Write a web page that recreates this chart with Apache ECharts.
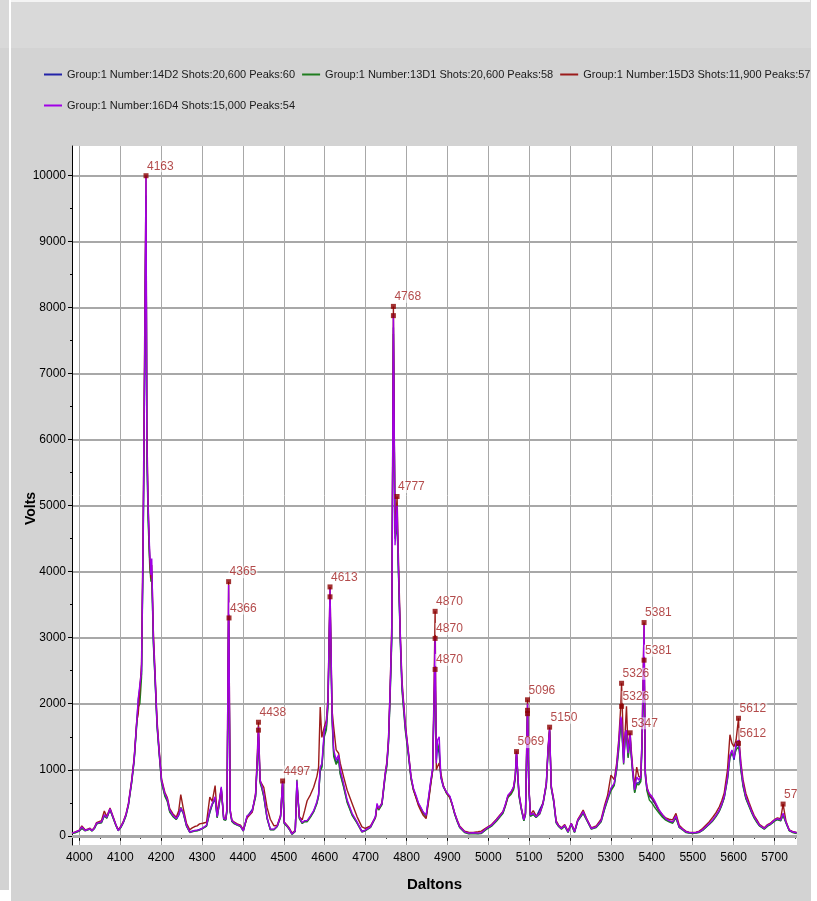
<!DOCTYPE html>
<html><head><meta charset="utf-8">
<script src="https://cdn.jsdelivr.net/npm/echarts@6/dist/echarts.min.js"></script>
<style>html,body{margin:0;padding:0;background:#d3d3d3}#c{width:817px;height:901px}</style>
</head><body><div id="c"></div><script>
const seriesNames = [
  'Group:1 Number:14D2 Shots:20,600 Peaks:60',
  'Group:1 Number:13D1 Shots:20,600 Peaks:58',
  'Group:1 Number:15D3 Shots:11,900 Peaks:57',
  'Group:1 Number:16D4 Shots:15,000 Peaks:54'
];
const xTicks = [4000,4100,4200,4300,4400,4500,4600,4700,4800,4900,5000,5100,5200,5300,5400,5500,5600,5700];
const xMinorTicks = [4050,4150,4250,4350,4450,4550,4650,4750,4850,4950,5050,5150,5250,5350,5450,5550,5650,5750];
const yTicks = [0,1000,2000,3000,4000,5000,6000,7000,8000,9000,10000];
const yMinorTicks = [500,1500,2500,3500,4500,5500,6500,7500,8500,9500];

const daltons = [3982,3990,4000,4006,4014,4020,4026,4031,4037,4042,4048,4054,4061,4067,4075,4082,4089,4095,4101,4107,4114,4120,4128,4134,4140,4144,4148,4152,4156,4160,4163,4165,4168,4172,4175,4177,4181,4185,4190,4195,4201,4209,4215,4221,4229,4237,4243,4248,4254,4262,4270,4276,4282,4288,4294,4302,4311,4319,4325,4332,4337,4342,4347,4353,4358,4361,4365,4369,4373,4378,4386,4394,4401,4410,4416,4423,4431,4435,4438,4442,4446,4451,4459,4467,4476,4484,4492,4497,4501,4508,4514,4520,4528,4532,4538,4545,4551,4557,4565,4573,4581,4585,4589,4593,4599,4604,4608,4613,4618,4622,4628,4634,4638,4646,4655,4667,4679,4691,4699,4712,4724,4728,4732,4740,4748,4752,4756,4760,4764,4768,4772,4777,4780,4785,4789,4797,4805,4811,4817,4824,4829,4835,4841,4848,4853,4859,4864,4867,4870,4873,4876,4880,4884,4890,4898,4906,4912,4918,4924,4930,4942,4952,4963,4975,4983,4995,5008,5020,5028,5036,5042,5048,5056,5062,5066,5069,5075,5081,5087,5091,5096,5099,5103,5110,5117,5126,5134,5142,5146,5150,5154,5160,5166,5172,5179,5187,5195,5203,5211,5219,5226,5232,5240,5252,5264,5276,5284,5292,5300,5308,5314,5319,5324,5326,5331,5335,5338,5342,5347,5349,5353,5358,5363,5368,5373,5376,5381,5384,5388,5394,5400,5406,5418,5426,5434,5442,5451,5459,5467,5475,5483,5491,5500,5508,5516,5524,5532,5540,5549,5557,5565,5571,5577,5585,5591,5596,5601,5606,5612,5614,5618,5623,5630,5638,5644,5650,5657,5663,5675,5683,5690,5695,5701,5707,5715,5721,5728,5736,5744,5754];

const volts16D4 = [40,55,80,135,80,95,105,75,120,190,200,210,320,280,410,290,170,80,130,200,320,480,830,1160,1700,2080,2100,2500,4500,7500,10000,6000,5000,4300,3950,4200,3000,2450,1700,1290,840,640,560,390,310,260,320,420,360,160,55,65,80,85,90,120,160,390,490,590,290,500,740,260,250,400,3800,380,230,200,170,150,75,300,320,380,630,1140,1650,850,760,630,280,100,100,150,300,830,200,150,100,25,75,835,280,200,230,230,300,380,520,630,1040,1090,1600,1700,2050,3740,1850,1300,1150,1225,1000,795,540,340,210,60,85,135,290,490,415,490,945,1100,1450,2210,3100,7900,4400,5000,4160,2990,2300,1670,1245,900,720,600,500,430,360,310,540,820,1030,1960,3000,1100,1450,1500,900,750,660,600,480,340,230,135,60,40,45,40,45,110,160,240,300,365,480,615,670,745,900,1275,640,415,240,340,2000,795,315,340,290,340,490,795,1300,1620,745,540,210,150,110,160,60,185,60,240,300,365,260,110,135,230,420,570,720,795,1050,1400,1805,1750,1100,1555,1600,1250,1555,1300,1000,695,890,845,890,1450,3200,945,720,640,600,540,390,320,260,230,210,300,135,100,60,50,45,50,60,90,135,180,240,310,390,480,590,890,1225,1300,1175,1400,1450,1350,1050,795,590,465,370,290,220,160,110,160,180,210,240,260,240,340,210,85,60,45];

const volts14D2 = [45,50,75,120,85,90,110,80,115,180,195,200,300,270,390,280,165,85,125,195,310,470,820,1150,1680,2050,2080,2450,4400,7300,9700,5900,4900,4200,3900,4000,2950,2400,1680,1270,820,620,540,370,300,250,310,400,350,150,60,70,75,80,95,115,150,350,470,560,280,480,720,250,240,380,3300,360,220,190,165,145,80,290,340,400,600,1100,1550,820,740,600,270,95,95,145,290,800,190,145,95,30,70,800,270,190,220,220,290,370,500,610,1000,1050,1550,1650,2000,3600,1800,1250,1100,1180,950,760,520,320,200,70,80,130,280,470,400,480,920,1080,1420,2150,3000,7700,4600,4800,4100,2950,2250,1640,1220,880,700,580,490,420,350,300,520,800,1000,1900,2520,1150,1350,1250,880,740,650,590,470,330,220,130,55,35,40,35,40,100,150,230,290,350,460,590,650,720,880,1250,620,400,230,330,1900,780,300,330,280,400,500,780,1280,1600,730,520,200,145,105,150,55,180,55,230,290,350,250,105,130,220,400,560,700,780,1020,1350,1750,1700,1150,1500,1550,1200,1500,1280,980,660,800,800,850,1400,2660,900,700,600,560,500,370,300,250,220,200,280,130,95,55,45,40,45,55,85,130,175,230,300,380,470,580,870,1200,1280,1150,1350,1400,1300,1000,770,570,450,360,280,210,155,105,150,175,200,230,250,230,320,200,80,55,40];

const volts13D1 = [35,45,70,110,75,85,100,70,110,175,190,195,310,265,400,275,160,75,120,190,300,460,800,1130,1650,1950,2000,2400,4300,7200,9600,5800,4800,4100,3850,3950,2900,2380,1650,1250,800,600,520,360,290,245,330,430,340,145,50,60,70,75,85,110,145,360,480,570,270,470,700,245,235,370,3250,350,215,185,160,140,70,280,330,370,590,1080,1500,800,720,590,260,90,90,140,280,780,185,140,90,20,65,850,260,185,215,210,280,360,490,600,980,1030,1500,1600,1950,3550,1750,1200,1080,1150,930,740,500,310,190,55,75,125,270,460,390,470,900,1050,1400,2100,2950,7600,4500,4700,4050,2900,2200,1600,1200,860,690,570,480,410,340,290,500,780,980,1850,2400,1300,1400,1300,900,760,640,580,460,320,215,125,50,30,35,30,35,95,145,220,280,340,450,580,630,700,860,1220,600,390,225,320,1850,760,295,320,275,330,480,760,1250,1580,720,510,195,140,100,145,50,170,50,225,285,340,245,100,125,210,390,540,680,760,1000,1300,1700,1650,1080,1480,1520,1180,1480,1250,960,650,780,770,820,1350,2660,1000,680,540,500,440,340,280,235,210,190,270,125,90,50,40,35,40,50,80,125,170,225,290,370,460,570,850,1180,1250,1200,1300,1350,1280,980,750,560,440,350,270,200,150,100,145,170,195,225,245,225,310,195,75,50,35];

const volts15D3 = [40,60,85,150,90,100,115,80,130,200,215,230,375,290,420,300,175,90,140,210,330,490,850,1180,1720,1850,1820,2600,4700,7800,10000,6200,5100,4200,3900,4100,3100,2500,1750,1320,860,660,580,410,330,280,380,625,420,190,90,120,140,150,180,190,205,585,520,760,330,520,720,270,255,420,3850,390,240,210,180,160,90,270,310,360,650,1200,1720,830,825,735,430,250,150,160,310,830,210,160,110,40,80,780,290,240,380,530,620,735,900,1040,1950,1490,1650,1750,2100,3770,1900,1645,1300,1250,1100,900,690,490,290,135,110,150,280,450,410,500,950,1120,1480,2250,3200,8020,4580,5140,4300,3050,2350,1700,1260,900,700,560,460,380,310,260,470,760,1000,2100,3400,1000,1050,1100,950,760,650,580,470,340,240,150,70,55,50,60,70,120,170,250,310,370,470,600,660,740,920,1280,650,420,250,350,2060,800,320,380,300,350,500,800,1320,1645,760,550,230,160,120,170,70,190,70,250,320,390,270,120,150,250,450,620,920,850,1100,1450,1960,2310,1250,1600,1960,1300,1560,1350,1050,750,1040,900,880,1500,3230,950,740,620,580,520,380,320,270,250,240,340,160,110,70,55,50,55,70,110,160,210,280,350,440,530,650,1000,1530,1400,1350,1450,1780,1400,1100,850,640,500,400,310,240,175,120,170,190,220,250,270,260,480,220,90,65,50];

const peakDaltons = [4163,4365,4366,4438,4438,4497,4613,4613,4768,4768,4777,4870,4870,4870,5069,5096,5096,5096,5150,5326,5326,5347,5381,5381,5612,5612,5721];
const peakVolts = [10000,3850,3300,1720,1600,830,3770,3620,8020,7880,5140,3400,2990,2520,1275,2060,1900,1850,1645,2310,1960,1560,3230,2660,1780,1400,480];
const peakLabels = ['4163','4365','4366','4438','','4497','4613','','4768','','4777','4870','4870','4870','5069','5096','','','5150','5326','5326','5347','5381','5381','5612','5612','5721'];

const FONT = '"Liberation Sans", Arial, sans-serif';
const colors = ['#2323a8', '#1f7d1f', '#9b1b1b', '#a000e6'];
const valueSets = [volts14D2, volts13D1, volts15D3, volts16D4];
const plain = v => String(v);

const chart = echarts.init(document.getElementById('c'), null, {renderer: 'canvas'});
const lineSeries = seriesNames.map((name, k) => ({
  name: name,
  type: 'line',
  data: daltons.map((d, i) => [d, valueSets[k][i]]),
  symbol: 'none',
  showSymbol: false,
  color: colors[k],
  lineStyle: {width: 1.4, color: colors[k]},
  z: 3 + k
}));
lineSeries[0].markLine = {
  silent: true, symbol: 'none', label: {show: false}, animation: false,
  lineStyle: {color: '#a8a8a8', width: 3, type: 'solid'},
  data: [{yAxis: yTicks[0]}]
};
lineSeries[0].z = 2;

const legendText = {fontFamily: FONT, fontSize: 11, color: '#1a1a1a'};
const option = {
  backgroundColor: '#d3d3d3',
  animation: false,
  textStyle: {fontFamily: FONT},
  graphic: [
    {type: 'rect', silent: true, z: -10, shape: {x: 0, y: 0, width: 817, height: 48}, style: {fill: '#d9d9d9'}},
    {type: 'rect', silent: true, z: -9, shape: {x: 10, y: 0, width: 800, height: 2}, style: {fill: '#f4f4f4'}},
    {type: 'rect', silent: true, z: -9, shape: {x: 9, y: 0, width: 2, height: 901}, style: {fill: '#ffffff'}},
    {type: 'rect', silent: true, z: 100, shape: {x: 797, y: 140, width: 14, height: 706}, style: {fill: '#d3d3d3'}},
    {type: 'rect', silent: true, z: 100, shape: {x: 811, y: 0, width: 6, height: 901}, style: {fill: '#ffffff'}},
    {type: 'rect', silent: true, z: -9, shape: {x: 0, y: 890, width: 10, height: 11}, style: {fill: '#ffffff'}}
  ],
  legend: [
    {data: seriesNames.slice(0, 3), left: 39, top: 64, itemGap: 7, itemWidth: 18, itemHeight: 2, icon: 'rect', textStyle: legendText},
    {data: seriesNames.slice(3), left: 39, top: 95, itemGap: 7, itemWidth: 18, itemHeight: 2, icon: 'rect', textStyle: legendText}
  ],
  grid: {left: 72, right: 20, top: 146, bottom: 56, show: true, backgroundColor: '#ffffff', borderWidth: 0,
         containLabel: false, outerBoundsMode: 'none'},
  xAxis: [
    {type: 'value', min: 3982, max: 5755, position: 'bottom',
     name: 'Daltons', nameLocation: 'middle', nameGap: 32, nameMoveOverlap: false,
     nameTextStyle: {fontFamily: FONT, fontWeight: 'bold', fontSize: 15, color: '#000'},
     axisLine: {show: true, lineStyle: {color: '#000', width: 1}},
     axisTick: {show: true, customValues: xTicks, length: 5, lineStyle: {color: '#000'}},
     axisLabel: {customValues: xTicks, formatter: plain, margin: 7, fontFamily: FONT, fontSize: 12, color: '#000'},
     splitLine: {show: true, lineStyle: {color: '#a8a8a8', width: 1}}},
    {type: 'value', min: 3982, max: 5755, position: 'bottom',
     axisLine: {show: false}, axisLabel: {show: false}, splitLine: {show: false},
     axisTick: {show: true, customValues: xMinorTicks, length: 3, lineStyle: {color: '#000'}}}
  ],
  yAxis: [
    {type: 'value', min: -140, max: 10450, position: 'left',
     name: 'Volts', nameLocation: 'middle', nameGap: 34, nameRotate: 90, nameMoveOverlap: false,
     nameTextStyle: {fontFamily: FONT, fontWeight: 'bold', fontSize: 14, color: '#000', padding: [0, 26, 0, 0]},
     axisLine: {show: true, lineStyle: {color: '#000', width: 1}},
     axisTick: {show: true, customValues: yTicks, length: 4, lineStyle: {color: '#000'}},
     axisLabel: {customValues: yTicks, formatter: plain, margin: 6, fontFamily: FONT, fontSize: 12, color: '#000'},
     splitLine: {show: true, lineStyle: {color: '#a8a8a8', width: 2}}},
    {type: 'value', min: -140, max: 10450, position: 'left',
     axisLine: {show: false}, axisLabel: {show: false}, splitLine: {show: false},
     axisTick: {show: true, customValues: yMinorTicks, length: 2, lineStyle: {color: '#000'}}}
  ],
  series: lineSeries.concat([{
    name: 'peaks',
    type: 'scatter',
    data: peakDaltons.map((d, i) => [d, peakVolts[i]]),
    symbol: 'rect',
    symbolSize: 5,
    itemStyle: {color: '#8b0000'},
    z: 10,
    label: {
      show: true,
      position: 'top',
      align: 'left',
      distance: 1,
      offset: [-2, 0],
      formatter: p => peakLabels[p.dataIndex],
      fontFamily: FONT,
      fontSize: 12,
      color: '#a01e1e',
      backgroundColor: 'rgba(255,255,255,0.7)',
      padding: [0, 1]
    },
    labelLayout: {hideOverlap: false}
  }])
};
chart.setOption(option);
</script></body></html>
